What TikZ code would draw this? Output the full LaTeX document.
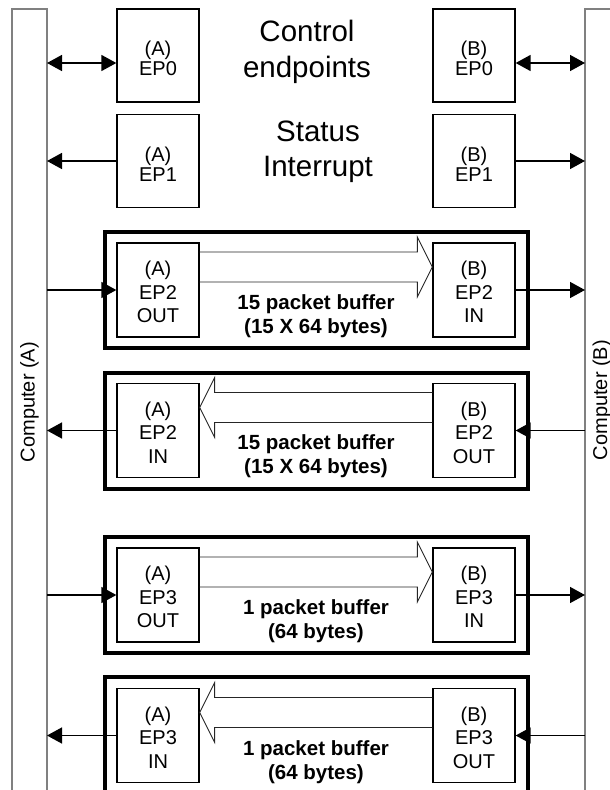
\documentclass[tikz,border=0pt]{standalone}
\usepackage{fontspec}
\setmainfont{Liberation Sans}
\usetikzlibrary{arrows.meta,calc}
\newcommand{\toplift}{\rule{0pt}{20.5pt}}
\newcommand{\midlift}{\rule{0pt}{18.5pt}}
\begin{document}
\begin{tikzpicture}[x=1pt,y=-1pt,
  ep/.style={draw,line width=1.3pt,minimum width=82pt,minimum height=94pt,inner sep=0pt,align=center,font=\fontsize{20}{23.5}\selectfont},
  eptop/.style={ep,minimum height=93pt,font=\fontsize{20}{20.5}\selectfont},
  bufbox/.style={draw,line width=3.5pt,minimum width=423pt,minimum height=116pt,inner sep=0pt},
  bufarrow/.style={draw=black!85,line width=0.9pt,line join=miter},
  buftext/.style={align=center,inner sep=0pt,font=\fontsize{20.5}{24}\selectfont\bfseries},
  conn/.style={line width=1.5pt,-{Triangle[length=15pt,width=16pt]}},
  conntwo/.style={line width=1.5pt,{Triangle[length=15pt,width=16pt]}-{Triangle[length=15pt,width=16pt]}},
  compbar/.style={draw=black!50,line width=1.3pt},
  bigtext/.style={align=center,inner sep=0pt,font=\fontsize{29.5}{35.5}\selectfont},
  comptext/.style={rotate=90,inner sep=0pt,font=\fontsize{20}{24}\selectfont}
]
\useasboundingbox (0,0) rectangle (610,790);

% computers
\draw[compbar] (12,800) -- (12,9) -- (47,9) -- (47,800);
\draw[compbar] (585,800) -- (585,9) -- (620,9) -- (620,800);
\coordinate (barL) at (47,0);
\coordinate (barR) at (585,0);
\node[comptext] (compA) at (29.5,402) {Computer (A)};
\node[comptext] (compB) at (602,400) {Computer (B)};

% control and status endpoints
\node[eptop] (aep0) at (158,55.5) {\toplift(A)\\EP0};
\node[eptop] (bep0) at (474,55.5) {\toplift(B)\\EP0};
\node[eptop] (aep1) at (158,161) {\toplift(A)\\EP1};
\node[eptop] (bep1) at (474,161) {\toplift(B)\\EP1};
\node[bigtext] (ctrl) at (307,52) {Control\\endpoints};
\node[bigtext] (stat) at (318,152) {Status\\Interrupt};

\coordinate (y0) at (0,63);
\draw[conntwo] (barL |- y0) -- (aep0.west |- y0);
\draw[conntwo] (bep0.east |- y0) -- (barR |- y0);
\draw[conn] (aep1.west) -- (barL |- aep1.west);
\draw[conn] (bep1.east) -- (barR |- bep1.east);

% buffer 1: EP2 OUT -> EP2 IN
\node[bufbox] (buf1) at (316.5,290) {};
\node[ep] (a2out) at (158,290) {\midlift(A)\\EP2\\OUT};
\node[ep] (b2in) at (474,290) {\midlift(B)\\EP2\\IN};
\draw[bufarrow] ($(a2out.east)+(0,-38)$) -- ($(b2in.west)+(-15,-38)$) -- ($(b2in.west)+(-15,-53)$) -- ($(b2in.west)+(0,-23)$) -- ($(b2in.west)+(-15,7)$) -- ($(b2in.west)+(-15,-8)$) -- ($(a2out.east)+(0,-8)$);
\node[buftext] (t1) at (316,316) {15 packet buffer\\(15 X 64 bytes)};
\draw[conn] (barL |- a2out.west) -- (a2out.west);
\draw[conn] (b2in.east) -- (barR |- b2in.east);

% buffer 2: EP2 OUT (B) -> EP2 IN (A)
\node[bufbox] (buf2) at (316.5,431) {};
\node[ep] (a2in) at (158,430.5) {\midlift(A)\\EP2\\IN};
\node[ep] (b2out) at (474,430.5) {\midlift(B)\\EP2\\OUT};
\draw[bufarrow] ($(b2out.west)+(0,-38)$) -- ($(a2in.east)+(15,-38)$) -- ($(a2in.east)+(15,-53)$) -- ($(a2in.east)+(0,-23)$) -- ($(a2in.east)+(15,7)$) -- ($(a2in.east)+(15,-8)$) -- ($(b2out.west)+(0,-8)$);
\node[buftext] (t2) at (316,456) {15 packet buffer\\(15 X 64 bytes)};
\draw[conn] (a2in.west) -- (barL |- a2in.west);
\draw[conn] (barR |- b2out.east) -- (b2out.east);

% buffer 3: EP3 OUT -> EP3 IN
\node[bufbox] (buf3) at (316.5,595) {};
\node[ep] (a3out) at (158,595) {\midlift(A)\\EP3\\OUT};
\node[ep] (b3in) at (474,595) {\midlift(B)\\EP3\\IN};
\draw[bufarrow] ($(a3out.east)+(0,-38)$) -- ($(b3in.west)+(-15,-38)$) -- ($(b3in.west)+(-15,-53)$) -- ($(b3in.west)+(0,-23)$) -- ($(b3in.west)+(-15,7)$) -- ($(b3in.west)+(-15,-8)$) -- ($(a3out.east)+(0,-8)$);
\node[buftext] (t3) at (316,621) {1 packet buffer\\(64 bytes)};
\draw[conn] (barL |- a3out.west) -- (a3out.west);
\draw[conn] (b3in.east) -- (barR |- b3in.east);

% buffer 4: EP3 OUT (B) -> EP3 IN (A)
\node[bufbox] (buf4) at (316.5,735) {};
\node[ep] (a3in) at (158,735.5) {\midlift(A)\\EP3\\IN};
\node[ep] (b3out) at (474,735.5) {\midlift(B)\\EP3\\OUT};
\draw[bufarrow] ($(b3out.west)+(0,-38)$) -- ($(a3in.east)+(15,-38)$) -- ($(a3in.east)+(15,-53)$) -- ($(a3in.east)+(0,-23)$) -- ($(a3in.east)+(15,7)$) -- ($(a3in.east)+(15,-8)$) -- ($(b3out.west)+(0,-8)$);
\node[buftext] (t4) at (316,762) {1 packet buffer\\(64 bytes)};
\draw[conn] (a3in.west) -- (barL |- a3in.west);
\draw[conn] (barR |- b3out.east) -- (b3out.east);
\end{tikzpicture}
\end{document}
